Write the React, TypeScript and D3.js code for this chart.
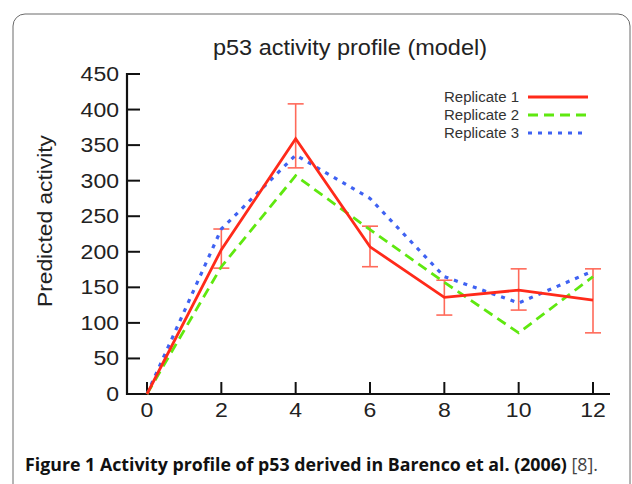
import React from "react";
import * as d3 from "d3";

const times = [0, 2, 4, 6, 8, 10, 12];
const rep1 = [0, 203, 359, 207, 136, 146, 132];
const rep2 = [0, 179, 307, 231, 157, 86, 165];
const rep3 = [0, 232, 336, 275, 165, 128, 173];
const errLow = [null, 177, 318, 179, 111, 118, 86];
const errHigh = [null, 232, 408, 236, 160, 176, 176];
const yTicks = [0, 50, 100, 150, 200, 250, 300, 350, 400, 450];
const xTicks = [0, 2, 4, 6, 8, 10, 12];
const seriesNames = ["Replicate 1", "Replicate 2", "Replicate 3"];
const title = "p53 activity profile (model)";
const yLabel = "Predicted activity";

export default function App() {
  const W = 632, H = 484;
  const x = d3.scaleLinear().domain([0, 12]).range([147, 593]);
  const y = d3.scaleLinear().domain([0, 450]).range([394, 74]);
  const line = d3.line<number>().x((_, i) => x(times[i])).y((d) => y(d));
  const font = "'Liberation Sans', Arial, Helvetica, sans-serif";
  const series = [
    { data: rep1, color: "#ff2a1a", dash: undefined, width: 2.8 },
    { data: rep2, color: "#5fe80f", dash: "10 6", width: 2.8 },
    { data: rep3, color: "#3f62f2", dash: "4 6", width: 3.2 },
  ];
  const digitW = 12.8;
  return (
    <svg width={W} height={H} style={{ position: "absolute", left: 0, top: 0, background: "#fff" }}>
      <rect x={13} y={14} width={617} height={500} rx={12} ry={12} fill="#fff" stroke="#6a6a6a" strokeWidth={1} />
      <text x={350} y={55} textAnchor="middle" fontFamily={font} fontSize={22} fill="#222" textLength={274} lengthAdjust="spacingAndGlyphs">{title}</text>
      <text transform={`translate(52,221) rotate(-90)`} textAnchor="middle" fontFamily={font} fontSize={21} fill="#222" textLength={172} lengthAdjust="spacingAndGlyphs">{yLabel}</text>
      {/* y axis */}
      <line x1={127} x2={127} y1={y(450) - 1} y2={395} stroke="#111" strokeWidth={2.2} />
      {yTicks.map((t) => (
        <g key={"y" + t}>
          <line x1={127} x2={140} y1={y(t)} y2={y(t)} stroke="#111" strokeWidth={2} />
          <text x={119} y={y(t) + 7} textAnchor="end" fontFamily={font} fontSize={20} fill="#222" textLength={digitW * String(t).length} lengthAdjust="spacingAndGlyphs">{t}</text>
        </g>
      ))}
      {/* x axis */}
      <line x1={126} x2={610} y1={394} y2={394} stroke="#111" strokeWidth={2.2} />
      {xTicks.map((t) => (
        <g key={"x" + t}>
          <line x1={x(t)} x2={x(t)} y1={394} y2={382} stroke="#111" strokeWidth={2} />
          <text x={x(t)} y={417} textAnchor="middle" fontFamily={font} fontSize={20} fill="#222" textLength={digitW * String(t).length} lengthAdjust="spacingAndGlyphs">{t}</text>
        </g>
      ))}
      {/* error bars */}
      {times.map((t, i) =>
        errLow[i] == null ? null : (
          <g key={"e" + i} stroke="#ff6a5a" strokeWidth={1.6}>
            <line x1={x(t)} x2={x(t)} y1={y(errLow[i] as number)} y2={y(errHigh[i] as number)} />
            <line x1={x(t) - 8} x2={x(t) + 8} y1={y(errLow[i] as number)} y2={y(errLow[i] as number)} />
            <line x1={x(t) - 8} x2={x(t) + 8} y1={y(errHigh[i] as number)} y2={y(errHigh[i] as number)} />
          </g>
        )
      )}
      {series.slice().reverse().map((s, k) => (
        <path key={"s" + k} d={line(s.data) || ""} fill="none" stroke={s.color} strokeWidth={s.width} strokeDasharray={s.dash} strokeLinejoin="miter" />
      ))}
      {/* legend */}
      {series.map((s, i) => (
        <g key={"l" + i}>
          <text x={519} y={102 + i * 18} textAnchor="end" fontFamily={font} fontSize={14} fill="#333" textLength={75} lengthAdjust="spacingAndGlyphs">{seriesNames[i]}</text>
          <line x1={528} x2={588} y1={97 + i * 18} y2={97 + i * 18} stroke={s.color} strokeWidth={s.width} strokeDasharray={s.dash} />
        </g>
      ))}
      {/* caption */}
      <text x={25} y={471} fontFamily="'Open Sans', 'Noto Sans', sans-serif" fontSize={17.5} fill="#111" textLength={573} lengthAdjust="spacingAndGlyphs">
        <tspan fontWeight="bold">Figure 1 Activity profile of p53 derived in Barenco et al. (2006)</tspan>
        <tspan fontWeight="normal" fill="#444"> [8].</tspan>
      </text>
    </svg>
  );
}
